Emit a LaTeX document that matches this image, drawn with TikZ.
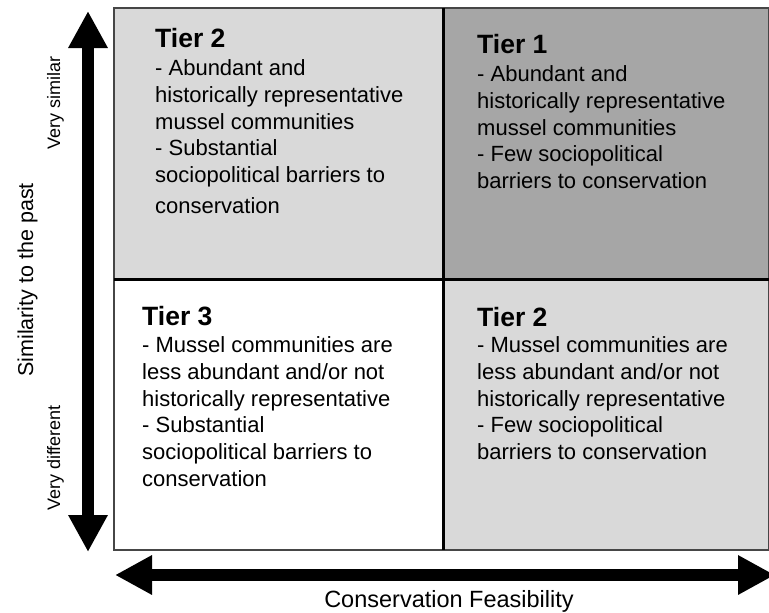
\documentclass[tikz,border=0pt]{standalone}
\usepackage{fontspec}
\setmainfont{Liberation Sans}
\usetikzlibrary{arrows.meta}

\definecolor{lightcell}{RGB}{217,217,217}
\definecolor{darkcell}{RGB}{166,166,166}
\definecolor{framegray}{RGB}{70,70,70}

\begin{document}
\begin{tikzpicture}[x=1pt, y=-1pt,
      tiertitle/.style={anchor=base west, inner sep=0pt, font=\bfseries\fontsize{26.5}{30}\selectfont},
      tierbody/.style={anchor=north west, inner sep=0pt, align=left, font=\fontsize{22}{26.8}\selectfont},
      axislabel/.style={anchor=base, inner sep=0pt, font=\fontsize{21.5}{24}\selectfont},
      endlabel/.style={anchor=base, inner sep=0pt, rotate=90, font=\fontsize{18}{20}\selectfont},
      bigarrow/.style={line width=12pt, {Triangle[length=37pt,width=37pt]}-{Triangle[length=37pt,width=37pt]}}
    ]
    \useasboundingbox (0,0) rectangle (769,613);

    %-----------------------------
    % 1) Quadrants
    %-----------------------------
    \fill[lightcell] (114,8) rectangle (443,279);
    \fill[darkcell] (443,8) rectangle (769,279);
    \fill[white] (114,279) rectangle (443,550);
    \fill[lightcell] (443,279) rectangle (769,550);
    \draw[framegray, line width=1.3pt] (114,8) rectangle (769,550);
    % dividers
    \draw[line width=3pt] (443,8) -- (443,550);
    \draw[line width=3pt] (114,279) -- (769,279);

    %-----------------------------
    % 2) Tier texts
    %-----------------------------
    \node[tiertitle] (tl-title) at (155,47) {Tier 2};
    \node[tierbody] (tl-body) at (155,59.3)
      {- Abundant and\\historically representative\\mussel communities\\- Substantial\\sociopolitical barriers to\\[4pt]conservation};

    \node[tiertitle] (tr-title) at (477,53) {Tier 1};
    \node[tierbody] (tr-body) at (477,65.3)
      {- Abundant and\\historically representative\\mussel communities\\- Few sociopolitical\\barriers to conservation};

    \node[tiertitle] (bl-title) at (142,325) {Tier 3};
    \node[tierbody] (bl-body) at (142,336.3)
      {- Mussel communities are\\less abundant and/or not\\historically representative\\- Substantial\\sociopolitical barriers to\\conservation};

    \node[tiertitle] (br-title) at (477,326) {Tier 2};
    \node[tierbody] (br-body) at (477,336.3)
      {- Mussel communities are\\less abundant and/or not\\historically representative\\- Few sociopolitical\\barriers to conservation};

    %-----------------------------
    % 3) Axes
    %-----------------------------
    \coordinate (sim-top) at (88,11);
    \coordinate (sim-bot) at (88,552);
    \coordinate (feas-left) at (115,575);
    \coordinate (feas-right) at (775,575);
    \draw[bigarrow] (sim-bot) -- (sim-top);
    \draw[bigarrow] (feas-left) -- (feas-right);

    \node[axislabel, rotate=90] (sim-label) at (33,280) {Similarity to the past};
    \node[endlabel] (sim-high) at (60,103) {Very similar};
    \node[endlabel] (sim-low) at (60,458) {Very different};
    \node[axislabel, font=\fontsize{23.5}{26}\selectfont] (feas-label) at (449,607) {Conservation Feasibility};

  \end{tikzpicture}
\end{document}
